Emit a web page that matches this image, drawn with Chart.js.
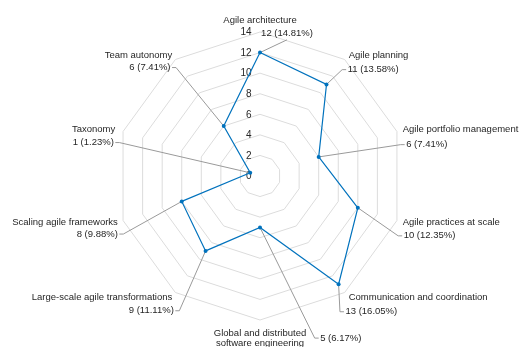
<!DOCTYPE html>
<html>
<head>
<meta charset="utf-8">
<script src="https://cdn.jsdelivr.net/npm/chart.js@4/dist/chart.umd.min.js"></script>
<style>
  html, body { margin: 0; padding: 0; background: #fff; }
  #wrap { position: relative; width: 520px; height: 347px; }
</style>
</head>
<body>
<div id="wrap"><canvas id="chart"></canvas></div>
<script>
// Topics and how many studies address each one
const categories = [
  'Agile architecture',
  'Agile planning',
  'Agile portfolio management',
  'Agile practices at scale',
  'Communication and coordination',
  ['Global and distributed', 'software engineering'],
  'Large-scale agile transformations',
  'Scaling agile frameworks',
  'Taxonomy',
  'Team autonomy'
];
const counts = [12, 11, 6, 10, 13, 5, 9, 8, 1, 6];
const tickValues = [0, 2, 4, 6, 8, 10, 12, 14];

const total = counts.reduce((a, b) => a + b, 0);
const valueTexts = counts.map(v => v + ' (' + (v / total * 100).toFixed(2) + '%)');

// Placement of each name / value pair, relative to the spot just outside the outer ring
const labelLayout = [
  { nAlign: 'center', nDx: 0,    nDy: -5.5, vAlign: 'center', vDx: 27,   vDy: 7.8 },
  { nAlign: 'left',   nDx: 0.5,  nDy: 0.9,  vAlign: 'left',   vDx: -0.5, vDy: 15 },
  { nAlign: 'left',   nDx: 0,    nDy: 0.2,  vAlign: 'left',   vDx: 3.5,  vDy: 15 },
  { nAlign: 'left',   nDx: 0,    nDy: 0.1,  vAlign: 'left',   vDx: 1,    vDy: 13.5 },
  { nAlign: 'left',   nDx: 0.5,  nDy: 0.1,  vAlign: 'left',   vDx: -2.7, vDy: 14.4 },
  { nAlign: 'center', nDx: 0,    nDy: 7,    vAlign: 'left',   vDx: 60.2, vDy: 12.1 },
  { nAlign: 'right',  nDx: 0.4,  nDy: 0.1,  vAlign: 'right',  vDx: 2,    vDy: 13.4 },
  { nAlign: 'right',  nDx: 0.5,  nDy: 0.1,  vAlign: 'right',  vDx: 0.5,  vDy: 11.7 },
  { nAlign: 'right',  nDx: -2.1, nDy: 0.2,  vAlign: 'right',  vDx: -3.5, vDy: 12.9 },
  { nAlign: 'right',  nDx: 0.4,  nDy: 0.9,  vAlign: 'right',  vDx: -1.3, vDy: 12.9 }
];

const TEXT_COLOR = '#262626';
const LEADER_COLOR = '#9a9a9a';
const FONT = '9.5px "Liberation Sans", Arial, sans-serif';
const TICK_FONT = '10px "Liberation Sans", Arial, sans-serif';

// Draws the ring values and the category labels with their leader lines
const webLabels = {
  id: 'webLabels',
  beforeDatasetsDraw(chart) {
    const scale = chart.scales.r;
    const ctx = chart.ctx;
    ctx.save();
    ctx.fillStyle = TEXT_COLOR;
    ctx.textBaseline = 'middle';

    // ring values, right-aligned just left of the vertical axis
    ctx.font = TICK_FONT;
    ctx.textAlign = 'right';
    tickValues.forEach(t => {
      const d = scale.getDistanceFromCenterForValue(t);
      ctx.fillText(String(t), scale.xCenter - 8.5, scale.yCenter - d + 0.5);
    });

    // leader lines from each point to its value label
    ctx.strokeStyle = LEADER_COLOR;
    ctx.lineWidth = 1;
    counts.forEach((v, i) => {
      const L = labelLayout[i];
      const anchor = scale.getPointPosition(i, scale.drawingArea + 6);
      const p = scale.getPointPosition(i, scale.getDistanceFromCenterForValue(v));
      const vx = anchor.x + L.vDx;
      const vy = anchor.y + L.vDy;
      ctx.beginPath();
      ctx.moveTo(p.x, p.y);
      if (L.vAlign === 'center') {
        ctx.lineTo(vx, vy + 6);
      } else if (L.vAlign === 'left') {
        ctx.lineTo(vx - 5.5, vy);
        ctx.lineTo(vx - 1.5, vy);
      } else {
        ctx.lineTo(vx + 5.5, vy);
        ctx.lineTo(vx + 1.5, vy);
      }
      ctx.stroke();
    });

    // category names and value texts
    ctx.font = FONT;
    categories.forEach((name, i) => {
      const L = labelLayout[i];
      const anchor = scale.getPointPosition(i, scale.drawingArea + 6);
      const lines = Array.isArray(name) ? name : [name];
      ctx.textAlign = L.nAlign;
      lines.forEach((ln, k) => {
        ctx.fillText(ln, anchor.x + L.nDx, anchor.y + L.nDy + k * 10.5);
      });
      ctx.textAlign = L.vAlign;
      ctx.fillText(valueTexts[i], anchor.x + L.vDx, anchor.y + L.vDy);
    });
    ctx.restore();
  }
};

new Chart(document.getElementById('chart'), {
  type: 'radar',
  data: {
    labels: categories,
    datasets: [{
      data: counts,
      borderColor: '#0072BD',
      backgroundColor: 'rgba(0,0,0,0)',
      borderWidth: 1.2,
      fill: false,
      pointRadius: 2,
      pointBackgroundColor: '#0072BD',
      pointBorderColor: '#0072BD',
      pointBorderWidth: 0,
      tension: 0
    }]
  },
  options: {
    responsive: true,
    maintainAspectRatio: false,
    animation: false,
    events: [],
    layout: { padding: { left: 116, right: 116, top: 32, bottom: 27 } },
    plugins: { legend: { display: false }, tooltip: { enabled: false } },
    scales: {
      r: {
        min: 0,
        max: 14,
        ticks: { display: false, stepSize: 2 },
        pointLabels: { display: false },
        angleLines: { display: false },
        grid: { circular: false, color: '#dcdcdc', lineWidth: 1 }
      }
    }
  },
  plugins: [webLabels]
});
</script>
</body>
</html>
